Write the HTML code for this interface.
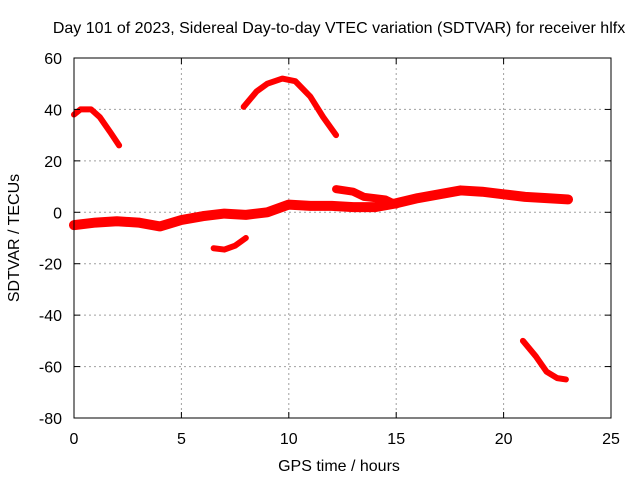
<!DOCTYPE html>
<html><head><meta charset="utf-8"><style>
body{margin:0;background:#fff;}
svg{display:block;font-family:"Liberation Sans",sans-serif;}
</style></head><body>
<svg id="chart" width="640" height="480">
<text x="339" y="33" font-size="16" text-anchor="middle">Day 101 of 2023, Sidereal Day-to-day VTEC variation (SDTVAR) for receiver hlfx</text>
<text x="339" y="471" font-size="16" text-anchor="middle">GPS time / hours</text>
<text transform="translate(19,238) rotate(-90)" font-size="16" text-anchor="middle">SDTVAR / TECUs</text>
<g id="grid"></g><g id="series"></g>
<rect x="74" y="58" width="537" height="360" fill="none" stroke="#000"/>
<g id="ticks"></g>
</svg>
<script>
const xTicks=[0,5,10,15,20,25];
const yTicks=[60,40,20,0,-20,-40,-60,-80];
const mainH=[0,1,2,3,4,5,6,7,8,9,10,11,12,13,14,15,16,17,18,19,20,21,22,23];
const mainV=[-5,-4,-3.5,-4,-5.5,-3,-1.5,-0.5,-1,0,3,2.5,2.5,2,2,3.5,5.5,7,8.5,8,7,6,5.5,5];
const bH=[12.2,13,13.5,14.5,15];
const bV=[9,8,6,5,3];
const cH=[0,0.3,0.8,1.2,1.7,2.1];
const cV=[38,40,40,37,31,26];
const dH=[7.9,8.5,9,9.7,10.3,11,11.6,12.2];
const dV=[41,47,50,52,51,45,37,30];
const eH=[6.5,7,7.5,8];
const eV=[-14,-14.5,-13,-10];
const fH=[20.9,21.5,22,22.5,22.9];
const fV=[-50,-56,-62,-64.5,-65];
const NS='http://www.w3.org/2000/svg';
const X=h=>74+h*537/25, Y=v=>58+(60-v)*360/140;
const grid=document.getElementById('grid'),ticks=document.getElementById('ticks'),ser=document.getElementById('series');
function mk(t,a,p){const e=document.createElementNS(NS,t);for(const k in a)e.setAttribute(k,a[k]);p.appendChild(e);return e;}
xTicks.forEach(t=>{const x=X(t);
 if(t>0&&t<25){const g=mk('line',{x1:x,x2:x,y1:58,y2:418,stroke:'#a0a0a0','stroke-dasharray':'2,3'},grid);
 
 }
 mk('line',{x1:x,x2:x,y1:418,y2:412,stroke:'#000'},ticks);mk('line',{x1:x,x2:x,y1:58,y2:64,stroke:'#000'},ticks);
 const l=mk('text',{x:x,y:444,'font-size':16,'text-anchor':'middle'},ticks);l.textContent=t;
 
 });
yTicks.forEach(t=>{const y=Y(t);
 if(t<60&&t>-80){const g=mk('line',{x1:74,x2:611,y1:y,y2:y,stroke:'#a0a0a0','stroke-dasharray':'2,3'},grid);
 
 }
 mk('line',{x1:74,x2:80,y1:y,y2:y,stroke:'#000'},ticks);mk('line',{x1:611,x2:605,y1:y,y2:y,stroke:'#000'},ticks);
 const l=mk('text',{x:62,y:y+6,'font-size':16,'text-anchor':'end'},ticks);l.textContent=t;
 
 });
function line(H,V,w,name){const p=mk('polyline',{points:H.map((h,i)=>X(h)+','+Y(V[i])).join(' '),fill:'none',stroke:'#ff0000','stroke-width':w,'stroke-linejoin':'round','stroke-linecap':'round'},ser);
 
 }
line(mainH,mainV,10,'series-main-band');
line(bH,bV,8,'series-arc-b');
line(cH,cV,6,'series-arc-c');
line(dH,dV,6,'series-arc-d');
line(eH,eV,6,'series-arc-e');
line(fH,fV,6,'series-arc-f');
</script>
</body></html>
